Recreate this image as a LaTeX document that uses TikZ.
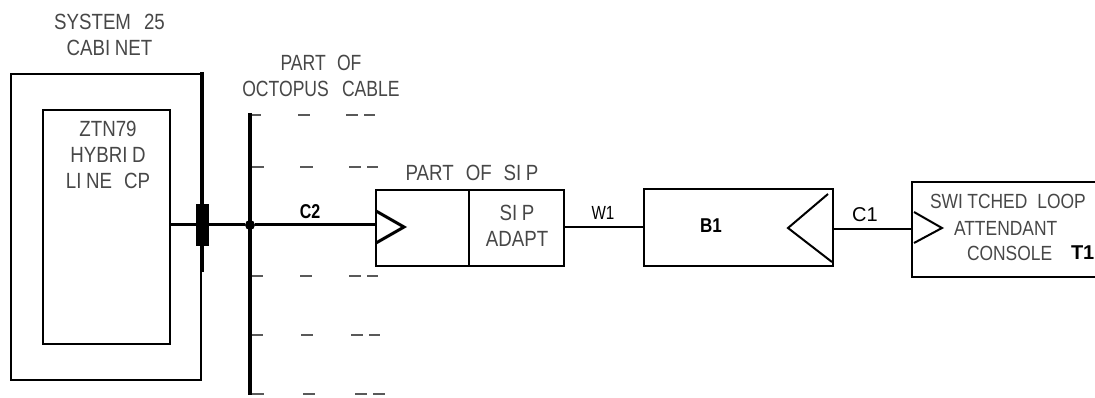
\documentclass[tikz,border=0pt]{standalone}
\usepackage{fontspec}
\setmainfont[FakeStretch=0.85]{Liberation Sans}
\newfontfamily\labelfont{Liberation Sans}
\newcommand{\wideI}{I\kern4.5pt}
\tikzset{
  every node/.style={inner sep=0pt, outer sep=0pt},
  boxnode/.style={draw, line width=2.6pt, minimum width=#1},
  txt/.style={font=\fontsize{22}{26}\selectfont, text=black!72, align=center},
  ref/.style={font=\labelfont\fontsize{19}{22}\selectfont, text=black},
  boldref/.style={font=\labelfont\bfseries\fontsize{20}{22}\selectfont, text=black},
  wire/.style={line width=3pt},
  thinwire/.style={line width=2pt},
  stub/.style={line width=1.2pt, black!65},
  tip/.style={line width=3pt, line join=miter}
}
\begin{document}
\begin{tikzpicture}[x=1pt, y=-1pt]
  \useasboundingbox (0, 0) rectangle (1095, 398);
  % cabinet and circuit pack
  \node (cabinet) [boxnode=190, minimum height=306] at (106, 227) {};
  \node (cp) [boxnode=127, minimum height=234] at (106.5, 227) {};
  \coordinate (edgetop) at (202, 72);
  \coordinate (edgebottom) at (202, 272);
  \draw [line width=3.6pt] (edgetop) -- (edgebottom);
  \node (jack) [fill=black, minimum width=13, minimum height=42] at (202.5, 225) {};
  % octopus cable
  \node (tap) [circle, fill=black, minimum size=10] at (250, 225) {};
  \coordinate (bustop) at (250, 113);
  \coordinate (busbottom) at (250, 395);
  \draw [line width=3.6pt] (bustop) -- (busbottom);
  \draw [stub] (252, 115) -- (261, 115) (298, 115) -- (310, 115) (346, 115) -- (358, 115) (364, 115) -- (375, 115);
  \draw [stub] (252, 167) -- (264, 167) (300, 167) -- (313, 167) (349, 167) -- (361, 167) (367, 167) -- (378, 167);
  \draw [stub] (252, 276) -- (263, 276) (300, 276) -- (312, 276) (349, 276) -- (361, 276) (367, 276) -- (378, 276);
  \draw [stub] (252, 335) -- (263, 335) (301, 335) -- (313, 335) (351, 335) -- (363, 335) (369, 335) -- (380, 335);
  \draw [stub] (252, 394) -- (264, 394) (303, 394) -- (315, 394) (355, 394) -- (367, 394) (373, 394) -- (385, 394);
  % boxes along the line
  \node (sip) [boxnode=93, minimum height=76] at (422.5, 228) {};
  \node (adapt) [boxnode=95, minimum height=76] at (516.5, 228) {};
  \node (bone) [boxnode=189, minimum height=77] at (738.5, 227.5) {};
  \coordinate (consoletl) at (912, 182);
  \coordinate (consolebl) at (912, 277);
  \coordinate (consoletr) at (1095, 182);
  \coordinate (consolebr) at (1095, 277);
  \draw [boxnode=0] (consoletr) -- (consoletl) -- (consolebl) -- (consolebr);
  % connectors
  \draw [wire] (cp.east |- jack) -- (jack) -- (tap) -- (tap -| sip.west);
  \draw [thinwire] (adapt.east |- bone) -- (bone.west);
  \coordinate (consolein) at (912, 229);
  \draw [thinwire] (bone.east |- consolein) -- (consolein);
  % connector tips
  \draw [tip] (376, 211) -- (404, 227) -- (376, 243);
  \draw [thinwire] (828, 194) -- (788, 228) -- (832, 262);
  \draw [thinwire] (914, 212) -- (942, 228) -- (914, 243);
  % labels
  \node (cabinetname) [txt] at (109.5, 34.5) {SYSTEM\hspace{13pt}25\\CAB\wideI NET};
  \node (cpname) [txt] at (108, 155) {ZTN79\\HYBR\wideI D\\L\wideI NE\hspace{12pt}CP};
  \node (cablename) [txt, xscale=0.94] at (321, 75.5) {PART\hspace{12pt}OF\\OCTOPUS\hspace{14pt}CABLE};
  \node (sipname) [txt] at (472, 172.5) {PART\hspace{12pt}OF\hspace{12pt}S\wideI P};
  \node (adaptname) [txt] at (517, 226) {S\wideI P\\ADAPT};
  \node (ctwo) [boldref, xscale=0.8] at (310, 212) {C2};
  \node (wone) [ref, xscale=0.8] at (603, 213) {W1};
  \node (cone) [ref, font=\labelfont\fontsize{20}{22}\selectfont] at (865, 215) {C1};
  \node (bonename) [boldref, xscale=0.85] at (711, 226) {B1};
  \node (consoleone) [txt, anchor=west, font=\fontsize{20.5}{26}\selectfont] at (930, 201) {SW\wideI TCHED\hspace{10pt}LOOP};
  \node (consoletwo) [txt, anchor=west, font=\fontsize{20.5}{26}\selectfont] at (954, 228) {ATTENDANT};
  \node (consolethree) [txt, anchor=west, font=\fontsize{20.5}{26}\selectfont] at (967, 253) {CONSOLE};
  \node (tone) [boldref, anchor=west] at (1071, 253) {T1};
\end{tikzpicture}
\end{document}
